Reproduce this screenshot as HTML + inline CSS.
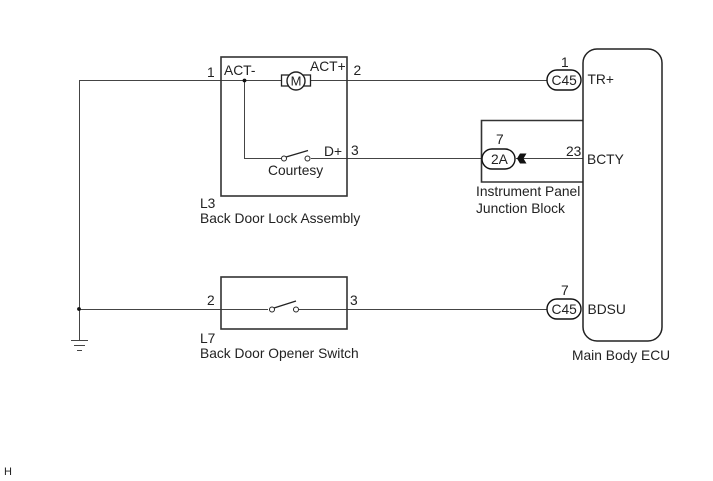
<!DOCTYPE html>
<html>
<head>
<meta charset="utf-8">
<style>
html,body{margin:0;padding:0;background:#fff}
svg{display:block}
text{font-family:"Liberation Sans",Arial,sans-serif;font-size:13.8px;fill:#222}
</style>
</head>
<body>
<svg width="713" height="481" viewBox="0 0 713 481" xmlns="http://www.w3.org/2000/svg">
<g fill="none" stroke="#444" stroke-width="1">
  <!-- wires -->
  <path d="M79.500 340V80.500H284"/>
  <path d="M308 80.500H547"/>
  <path d="M244.500 80.500V158.500H281"/>
  <path d="M311 158.500H482"/>
  <path d="M516 158.500H583"/>
  <path d="M79.500 309.500H268"/>
  <path d="M299 309.500H547"/>
  <!-- ground -->
  <path d="M71 340.500H88M74 345.500H85M77 350.500H82"/>
</g>
<g fill="none" stroke="#333" stroke-width="1.600">
  <rect x="221" y="57" width="126" height="139"/>
  <rect x="221" y="277" width="126" height="52"/>
  <path d="M583 120.500H481.500V182H583"/>
</g>
<!-- ECU -->
<rect x="583" y="49" width="79" height="292" rx="14" ry="14" fill="#fff" stroke="#222" stroke-width="1.500"/>
<!-- motor -->
<g stroke="#222" fill="#fff">
  <rect x="281.500" y="75" width="29" height="11" stroke-width="1.300"/>
  <circle cx="296" cy="81" r="9" stroke-width="1.400"/>
</g>
<text x="296" y="85.500" text-anchor="middle" style="font-size:13px">M</text>
<!-- switches -->
<g stroke="#222" fill="#fff" stroke-width="1">
  <circle cx="284" cy="158.500" r="2.500"/>
  <circle cx="307.500" cy="158.500" r="2.500"/>
  <circle cx="272" cy="309.500" r="2.500"/>
  <circle cx="296" cy="309.500" r="2.500"/>
</g>
<path d="M286 157L308 150.500M274 308L296 301" stroke="#222" stroke-width="1.300" fill="none"/>
<!-- dots -->
<circle cx="244.500" cy="80.500" r="1.900" fill="#111"/>
<circle cx="79" cy="309" r="1.900" fill="#111"/>
<!-- connectors -->
<g fill="#fff" stroke="#111" stroke-width="1.400">
  <rect x="547" y="70" width="34" height="20" rx="10"/>
  <rect x="482" y="149" width="33" height="20" rx="10"/>
  <rect x="547" y="299" width="34" height="20" rx="10"/>
</g>
<!-- arrow -->
<path d="M517 158.500L520 153.500H526.500L523.500 158.500L526.500 163.500H520Z" fill="#111"/>
<!-- labels -->
<text x="207" y="77">1</text>
<text x="224" y="75">ACT-</text>
<text x="310" y="71">ACT+</text>
<text x="353.500" y="75">2</text>
<text x="324" y="156">D+</text>
<text x="351" y="155">3</text>
<text x="268" y="175">Courtesy</text>
<text x="200" y="208">L3</text>
<text x="200" y="223">Back Door Lock Assembly</text>
<text x="561" y="67">1</text>
<text x="551.500" y="85">C45</text>
<text x="587.500" y="84">TR+</text>
<text x="496" y="144">7</text>
<text x="491" y="164">2A</text>
<text x="566" y="156">23</text>
<text x="587" y="164">BCTY</text>
<text x="476" y="196">Instrument Panel</text>
<text x="476" y="213">Junction Block</text>
<text x="207" y="305">2</text>
<text x="350" y="305">3</text>
<text x="200" y="343">L7</text>
<text x="200" y="358">Back Door Opener Switch</text>
<text x="561" y="295">7</text>
<text x="551.500" y="314">C45</text>
<text x="587.500" y="314">BDSU</text>
<text x="572" y="360">Main Body ECU</text>
<text x="4" y="475" style="font-size:11px">H</text>
</svg>
</body>
</html>
